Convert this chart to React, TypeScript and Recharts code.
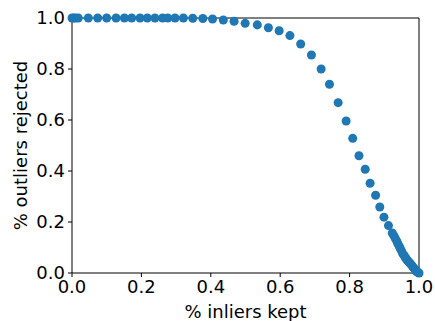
import {
  ScatterChart,
  Scatter,
  XAxis,
  YAxis,
  ZAxis,
  ReferenceLine,
} from "recharts";

const inliersKept = [
  0, 0.005, 0.01, 0.018, 0.047, 0.074, 0.1, 0.127, 0.151, 0.172, 0.196, 0.217,
  0.239, 0.261, 0.276, 0.297, 0.321, 0.348, 0.377, 0.405, 0.436, 0.467, 0.499,
  0.534, 0.566, 0.597, 0.628, 0.659, 0.69, 0.718, 0.742, 0.767, 0.79, 0.809,
  0.827, 0.845, 0.859, 0.875, 0.887, 0.899, 0.912, 0.923, 0.928, 0.932, 0.936,
  0.939, 0.943, 0.946, 0.95, 0.953, 0.957, 0.96, 0.963, 0.966, 0.97, 0.974,
  0.978, 0.981, 0.984, 0.987, 0.99, 0.992, 0.996, 1.0,
];

const outliersRejected = [
  1, 1, 1, 1, 1, 1, 1, 1, 1, 1, 1, 1, 1, 1, 1, 1, 1, 0.999, 0.998, 0.996,
  0.992, 0.987, 0.979, 0.973, 0.962, 0.95, 0.931, 0.898, 0.855, 0.8, 0.74,
  0.668, 0.596, 0.528, 0.46, 0.407, 0.352, 0.305, 0.259, 0.219, 0.186, 0.157,
  0.145, 0.135, 0.125, 0.115, 0.105, 0.096, 0.086, 0.076, 0.069, 0.062, 0.056,
  0.05, 0.044, 0.038, 0.032, 0.027, 0.021, 0.016, 0.012, 0.008, 0.003, 0,
];

const ticks = [0, 0.2, 0.4, 0.6, 0.8, 1.0];

const points = inliersKept.map((x, i) => ({ x, y: outliersRejected[i] }));

const font = "DejaVu Sans";

export default function App() {
  return (
    <div style={{ position: "absolute", left: 0, top: 0 }}>
      <ScatterChart
        width={435}
        height={321}
        margin={{ top: 18, right: 16, bottom: 0, left: 26 }}
      >
        <XAxis
          type="number"
          dataKey="x"
          domain={[0, 1]}
          ticks={ticks}
          tickFormatter={(v: number) => v.toFixed(1)}
          height={48}
          tickSize={4}
          tickMargin={3}
          stroke="#000"
          tick={{ fill: "#000", fontSize: 18, fontFamily: font }}
          label={{
            value: "% inliers kept",
            position: "insideBottom",
            offset: 3,
            fill: "#000",
            fontSize: 18,
            fontFamily: font,
          }}
        />
        <YAxis
          type="number"
          dataKey="y"
          domain={[0, 1]}
          ticks={ticks}
          tickFormatter={(v: number) => v.toFixed(1)}
          width={46}
          tickSize={4}
          tickMargin={3}
          stroke="#000"
          tick={{ fill: "#000", fontSize: 18, fontFamily: font }}
          label={{
            value: "% outliers rejected",
            angle: -90,
            position: "insideLeft",
            offset: -5,
            style: { textAnchor: "middle" },
            fill: "#000",
            fontSize: 18,
            fontFamily: font,
          }}
        />
        <ZAxis range={[40, 40]} />
        <ReferenceLine x={1} stroke="#000" />
        <ReferenceLine y={1} stroke="#000" />
        <Scatter
          data={points}
          fill="#1f77b4"
          shape="circle"
          isAnimationActive={false}
        />
      </ScatterChart>
    </div>
  );
}
